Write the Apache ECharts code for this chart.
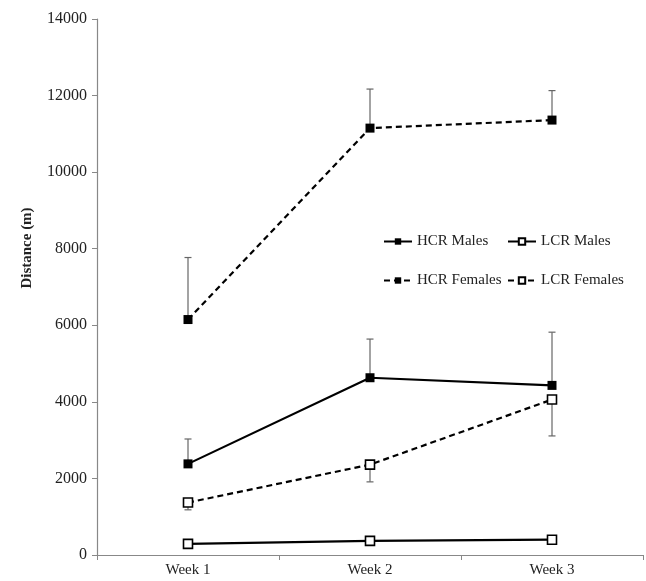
<!DOCTYPE html>
<html><head><meta charset="utf-8">
<script src="https://cdn.jsdelivr.net/npm/echarts@6/dist/echarts.min.js"></script>
<style>html,body{margin:0;padding:0;background:#fff}#c{width:646px;height:581px}</style>
</head><body><div id="c"></div>
<script>
const weeks = ['Week 1', 'Week 2', 'Week 3'];
const yTicks = [0, 2000, 4000, 6000, 8000, 10000, 12000, 14000];
const hcrMales = [2380, 4630, 4430];
const hcrMalesErr = [650, 1010, 1390];      // drawn upward
const lcrMales = [290, 370, 400];
const hcrFemales = [6150, 11150, 11360];
const hcrFemalesErr = [1620, 1020, 770];    // drawn upward
const lcrFemales = [1370, 2360, 4060];
const lcrFemalesErr = [190, 450, 950];      // drawn downward

const FONT = 'Liberation Serif';
const chart = echarts.init(document.getElementById('c'), null, {renderer: 'canvas'});

function errSeries(vals, errs, dir) {
  const data = vals.map((v, i) => [i, v, dir > 0 ? v + errs[i] : v - errs[i]]);
  return {
    type: 'custom', silent: true, z: 1,
    data: data,
    encode: {x: 0, y: [1, 2]},
    renderItem: function (params, api) {
      const p0 = api.coord([api.value(0), api.value(1)]);
      const p1 = api.coord([api.value(0), api.value(2)]);
      const cw = 3.5;
      const st = {stroke: '#666', lineWidth: 1.2};
      return {type: 'group', children: [
        {type: 'line', shape: {x1: p0[0], y1: p0[1], x2: p1[0], y2: p1[1]}, style: st},
        {type: 'line', shape: {x1: p1[0] - cw, y1: p1[1], x2: p1[0] + cw, y2: p1[1]}, style: st}
      ]};
    }
  };
}

function lineSeries(name, vals, dashed, filled) {
  return {
    name: name, type: 'line', data: vals, z: 3,
    symbol: 'rect', symbolSize: 9,
    lineStyle: {color: '#000', width: 2.2, type: dashed ? [6, 4] : 'solid'},
    itemStyle: {color: filled ? '#000' : '#fff', borderColor: '#000', borderWidth: filled ? 0 : 1.6},
    emphasis: {disabled: true},
    animation: false
  };
}

const legendBase = {
  orient: 'horizontal', itemWidth: 28, itemHeight: 8, itemGap: 8,
  textStyle: {fontFamily: FONT, fontSize: 15, color: '#222'},
  selectedMode: false
};

chart.setOption({
  animation: false,
  backgroundColor: '#fff',
  grid: {left: 97, right: 3, top: 19, bottom: 26},
  legend: [
    Object.assign({}, legendBase, {data: ['HCR Males'], left: 378, top: 229}),
    Object.assign({}, legendBase, {data: ['LCR Males'], left: 502, top: 229}),
    Object.assign({}, legendBase, {data: ['HCR Females'], left: 378, top: 268}),
    Object.assign({}, legendBase, {data: ['LCR Females'], left: 502, top: 268})
  ],
  xAxis: {
    type: 'category', data: weeks, boundaryGap: true,
    axisLine: {lineStyle: {color: '#888', width: 1.2}},
    axisTick: {show: true, length: 5, lineStyle: {color: '#888'}},
    axisLabel: {fontFamily: FONT, fontSize: 15, color: '#222', margin: 8},
    splitLine: {show: false}
  },
  yAxis: {
    type: 'value', min: yTicks[0], max: yTicks[yTicks.length - 1], interval: 2000,
    name: 'Distance (m)', nameLocation: 'middle', nameGap: 62,
    nameTextStyle: {fontFamily: FONT, fontSize: 15, fontWeight: 'bold', color: '#222', padding: [0, 0, 0, 78]},
    axisLine: {show: true, lineStyle: {color: '#888', width: 1.2}},
    axisTick: {show: true, length: 5, lineStyle: {color: '#888'}},
    axisLabel: {fontFamily: FONT, fontSize: 16, color: '#222', margin: 10, formatter: v => String(v)},
    splitLine: {show: false}
  },
  series: [
    errSeries(hcrMales, hcrMalesErr, 1),
    errSeries(hcrFemales, hcrFemalesErr, 1),
    errSeries(lcrFemales, lcrFemalesErr, -1),
    lineSeries('HCR Males', hcrMales, false, true),
    lineSeries('LCR Males', lcrMales, false, false),
    lineSeries('HCR Females', hcrFemales, true, true),
    lineSeries('LCR Females', lcrFemales, true, false)
  ]
});
</script></body></html>
